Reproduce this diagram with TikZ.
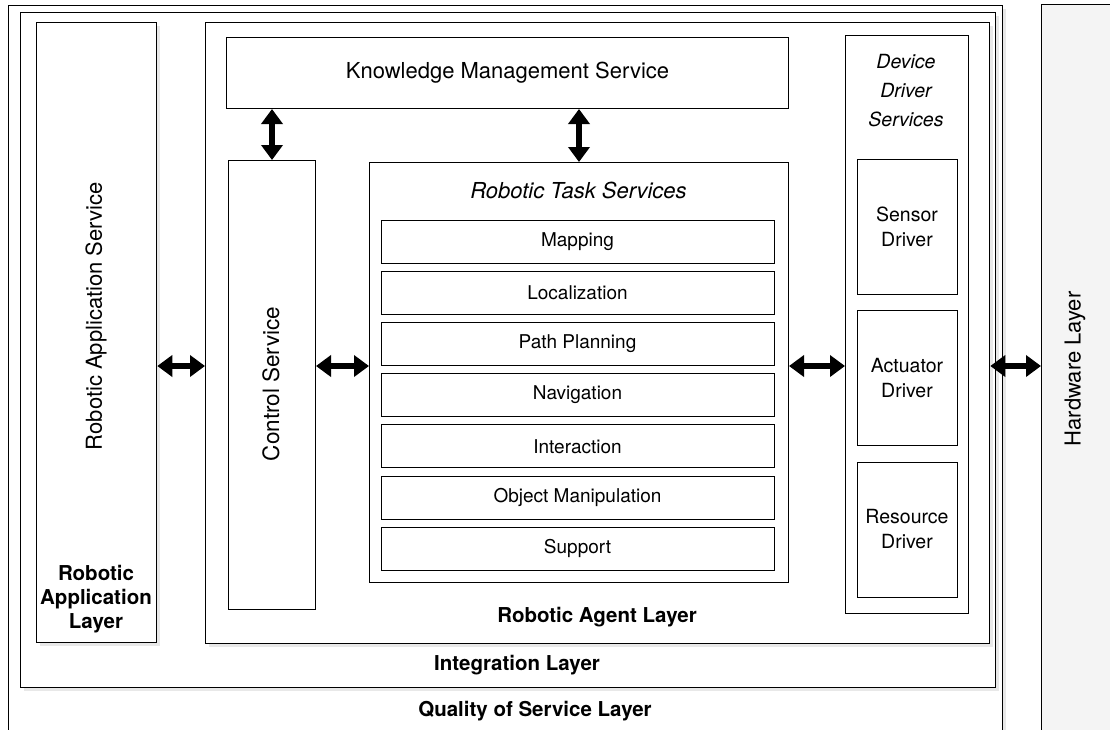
\documentclass[tikz,border=0pt]{standalone}
\usepackage{fontspec}
\setmainfont{TeX Gyre Heros}
\usepackage{tikz}
\usetikzlibrary{arrows.meta, positioning, calc, shadows}
\definecolor{hwgray}{RGB}{244, 244, 244}
\definecolor{shadowgray}{RGB}{210, 210, 210}

\begin{document}
\begin{tikzpicture}[
    x=1pt, y=-1pt,
    layer/.style={draw, fill=white, line width=1.3pt, rectangle, anchor=north west, inner sep=0pt,
        drop shadow={shadow xshift=3pt, shadow yshift=-3pt, fill=shadowgray}},
    box/.style={draw, fill=white, line width=1pt, rectangle, anchor=north west, inner sep=0pt, font=\fontsize{22}{26}\selectfont},
    item/.style={draw, fill=white, line width=1pt, rectangle, minimum width=393pt, minimum height=43pt, inner sep=0pt, font=\fontsize{19}{23}\selectfont},
    driver/.style={draw, fill=white, line width=1pt, rectangle, minimum width=100pt, minimum height=135pt, align=center, inner sep=0pt, font=\fontsize{19.5}{25}\selectfont},
    layername/.style={font=\bfseries\fontsize{20.5}{24}\selectfont, align=center},
    vertical/.style={rotate=90, font=\fontsize{22.5}{26}\selectfont},
    dblarrow/.style={line width=6pt, {Triangle[length=15pt, width=21pt]}-{Triangle[length=15pt, width=21pt]}}
]
    \useasboundingbox (0,0) rectangle (1110,729);
    \clip (0,0) rectangle (1110,729);

    % Layers
    \node[layer, minimum width=994pt, minimum height=760pt] (qos) at (8,5) {};
    \node[layer, minimum width=975pt, minimum height=675pt] (integ) at (20,12) {};
    \node[layer, minimum width=120pt, minimum height=620pt] (app) at (36,22) {};
    \node[layer, minimum width=784pt, minimum height=621pt] (agent) at (205,22) {};
    \node[draw, line width=1.3pt, fill=hwgray, anchor=north west, inner sep=0pt,
        minimum width=100pt, minimum height=760pt] (hw) at (1041,4) {};

    % Services
    \node[box, minimum width=562pt, minimum height=71pt] (kms) at (226,37) {Knowledge Management Service};
    \node[box, minimum width=87pt, minimum height=449pt] (ctrl) at (228,160) {};
    \node[box, minimum width=419pt, minimum height=420pt] (task) at (369,162) {};
    \node[box, minimum width=123pt, minimum height=578pt] (drv) at (845,35) {};

    % Texts
    \node[vertical, font=\fontsize{22}{26}\selectfont] (appservice) at (96,316) {Robotic Application Service};
    \node[vertical] (ctrltext) at (271,384) {Control Service};
    \node[vertical, font=\fontsize{22}{26}\selectfont] (hwtext) at (1075,369) {Hardware Layer};
    \node[font=\itshape\fontsize{22}{26}\selectfont] (tasktitle) at (578.5,190) {Robotic Task Services};
    \node[font=\itshape\fontsize{19.5}{29}\selectfont, align=center] (drvtitle) at (906,91) {Device\\Driver\\Services};
    \node[layername] (applayer) at (96,599) {Robotic\\Application\\Layer};
    \node[layername] (agentlayer) at (597,617) {Robotic Agent Layer};
    \node[layername] (integlayer) at (517,665) {Integration Layer};
    \node[layername] (qoslayer) at (535,711) {Quality of Service Layer};

    % Task items
    \foreach \name [count=\i] in {Mapping, Localization, Path Planning, Navigation, Interaction, Object Manipulation, Support} {
        \node[item] (item\i) at (577.5, {241.5+51.2*(\i-1)}) {\name};
    }

    % Drivers
    \foreach \name/\y [count=\i] in {Sensor/226.5, Actuator/378, Resource/529.5} {
        \node[driver] (drv\i) at (907,\y) {\name\\Driver};
    }

    % Connectors
    \coordinate (midline) at (0,366);
    \draw[dblarrow] (app.east |- midline) -- (agent.west |- midline);
    \draw[dblarrow] (ctrl.east |- midline) -- (task.west |- midline);
    \draw[dblarrow] (task.east |- midline) -- (drv.west |- midline);
    \draw[dblarrow] (agent.east |- midline) -- (hw.west |- midline);
    \draw[dblarrow] (ctrl.north |- kms.south) -- (ctrl.north);
    \draw[dblarrow] (task.north |- kms.south) -- (task.north);
\end{tikzpicture}
\end{document}
